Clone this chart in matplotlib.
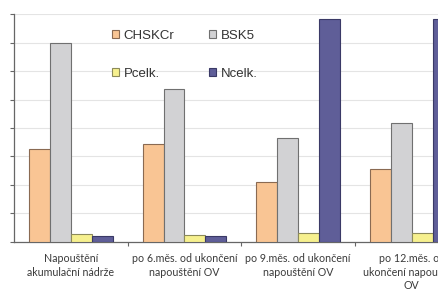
import numpy as np
import matplotlib
matplotlib.use("Agg")
import matplotlib.pyplot as plt
from matplotlib.patches import Patch

categories = ["Napouštění\nakumulační nádrže",
              "po 6.měs. od ukončení\nnapouštění OV",
              "po 9.měs. od ukončení\nnapouštění OV",
              "po 12.měs. od\nukončení napouštění\nOV"]
series = ["CHSKCr", "BSK5", "Pcelk.", "Ncelk."]
chskcr = [32.6, 34.3, 21.0, 25.5]
bsk5 = [70.0, 53.7, 36.4, 41.7]
pcelk = [2.6, 2.4, 3.0, 3.2]
ncelk = [2.0, 2.0, 78.4, 78.4]
yticks = [0, 10, 20, 30, 40, 50, 60, 70, 80]

colors = ["#F9C594", "#D2D2D4", "#F6F08E", "#5F5E98"]
edges = ["#8A6A52", "#707070", "#8C8A5A", "#3A3966"]

W, H = 438, 292
fig = plt.figure(figsize=(W / 100, H / 100), dpi=100)
ax = fig.add_axes([14 / W, (H - 241.7) / H, 454.6 / W, (241.7 - 14.3) / H])

x = np.arange(len(categories))
w = 0.184
for i, vals in enumerate([chskcr, bsk5, pcelk, ncelk]):
    ax.bar(x + (i - 1.5) * w, vals, w, color=colors[i], edgecolor=edges[i],
           linewidth=0.8, zorder=3)

ax.set_xlim(-0.5, 3.5)
ax.set_ylim(0, 80)
ax.set_yticks(yticks)
ax.set_yticklabels([str(v) for v in yticks], fontsize=10, color="#333333")
ax.grid(axis="y", color="#E4E4E4", linewidth=0.8, zorder=0)
ax.tick_params(axis="y", direction="out", length=3, width=0.8, color="#666666", pad=11)

ax.set_xticks(x)
ax.set_xticklabels(categories, fontsize=7.7, color="#3a3a3a", family="Lato",
                   linespacing=1.3)
ax.tick_params(axis="x", length=0, pad=8)
ax.set_xticks([0.5, 1.5, 2.5], minor=True)
ax.tick_params(axis="x", which="minor", direction="out", length=3, width=0.8, color="#666666")

for s in ["top", "right"]:
    ax.spines[s].set_visible(False)
for s in ["left", "bottom"]:
    ax.spines[s].set_color("#666666")
    ax.spines[s].set_linewidth(0.9)

handles = [Patch(facecolor=colors[i], edgecolor=edges[i], linewidth=0.8) for i in range(4)]
# legend order: row1 CHSKCr, BSK5 ; row2 Pcelk., Ncelk.
leg = fig.legend([handles[0], handles[2], handles[1], handles[3]],
                 [series[0], series[2], series[1], series[3]],
                 ncol=2, loc="upper left", bbox_to_anchor=(112 / W, 1 - 30 / H),
                 frameon=False, handlelength=0.55, handleheight=0.55,
                 handletextpad=0.35, columnspacing=2.6, labelspacing=1.95,
                 borderaxespad=0, borderpad=0, prop={"family": "Liberation Sans", "size": 9.5})
for t in leg.get_texts():
    t.set_color("#333333")

fig.savefig("out.png", dpi=100)
